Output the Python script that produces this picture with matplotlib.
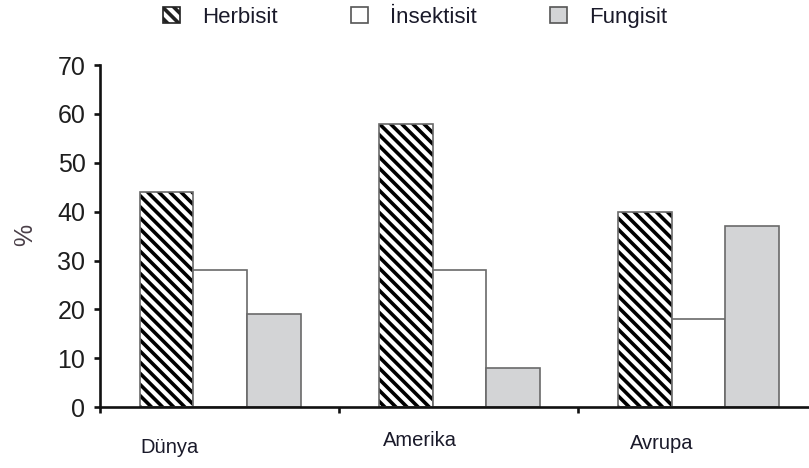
import matplotlib

matplotlib.use("Agg")
import matplotlib.pyplot as plt
from matplotlib.patches import Patch

plt.rcParams["font.family"] = ["Liberation Sans", "DejaVu Sans"]
plt.rcParams["hatch.linewidth"] = 2.6

regions = ["Dünya", "Amerika", "Avrupa"]
series = ["Herbisit", "İnsektisit", "Fungisit"]
herbisit = [44, 58, 40]
insektisit = [28, 28, 18]
fungisit = [19, 8, 37]

# group label offsets (data x) and heights (axes fraction)
label_x = [0.29, 1.34, 2.35]
label_y = [-0.118, -0.098, -0.107]

W = 0.224
EDGE = "#6a6a6a"
HATCH = "\\\\\\"

fig = plt.figure(figsize=(8.09, 4.68), dpi=100)
ax = fig.add_axes([0.1236, 0.130, 0.8764, 0.731])

for i in range(len(regions)):
    x0 = i + 0.167
    ax.bar(x0, herbisit[i], W, align="edge", color="white", edgecolor="black",
           hatch=HATCH, linewidth=0)
    ax.bar(x0, herbisit[i], W, align="edge", color="none", edgecolor=EDGE, linewidth=1.2)
    ax.bar(x0 + W, insektisit[i], W, align="edge", color="white", edgecolor=EDGE,
           linewidth=1.2)
    ax.bar(x0 + 2 * W, fungisit[i], W, align="edge", color="#d3d4d6", edgecolor=EDGE,
           linewidth=1.2)

ax.set_xlim(0, 2.966)
ax.set_ylim(0, 70)
ax.set_yticks(range(0, 71, 10))
ax.set_xticks([0, 1, 2])
ax.set_xticklabels([])
for s in ("top", "right"):
    ax.spines[s].set_visible(False)
for s in ("left", "bottom"):
    ax.spines[s].set_linewidth(1.9)
    ax.spines[s].set_color("#111111")
ax.tick_params(axis="both", direction="out", length=4.5, width=1.9, color="#111111")
ax.tick_params(axis="y", labelsize=18, labelcolor="#1e1e1e", pad=6)

for name, lx, ly in zip(regions, label_x, label_y):
    ax.text(lx, ly, name, transform=ax.get_xaxis_transform(), ha="center",
            va="center", fontsize=14.5, color="#1a1a2a")

fig.text(0.031, 0.497, "%", rotation=90, ha="center", va="center",
         fontsize=18, color="#4a3f48")

handles = [
    Patch(facecolor="white", edgecolor="#222222", hatch=HATCH, linewidth=1.2),
    Patch(facecolor="white", edgecolor="#555555", linewidth=1.2),
    Patch(facecolor="#d3d4d6", edgecolor="#555555", linewidth=1.2),
]
fig.legend(handles, series, loc="center", bbox_to_anchor=(0.513, 0.963), ncol=3,
           frameon=False, fontsize=16, handlelength=0.75, handleheight=0.75,
           handletextpad=1.0, columnspacing=3.3, labelcolor="#1a1a2a")

fig.savefig("out.png", dpi=100)
